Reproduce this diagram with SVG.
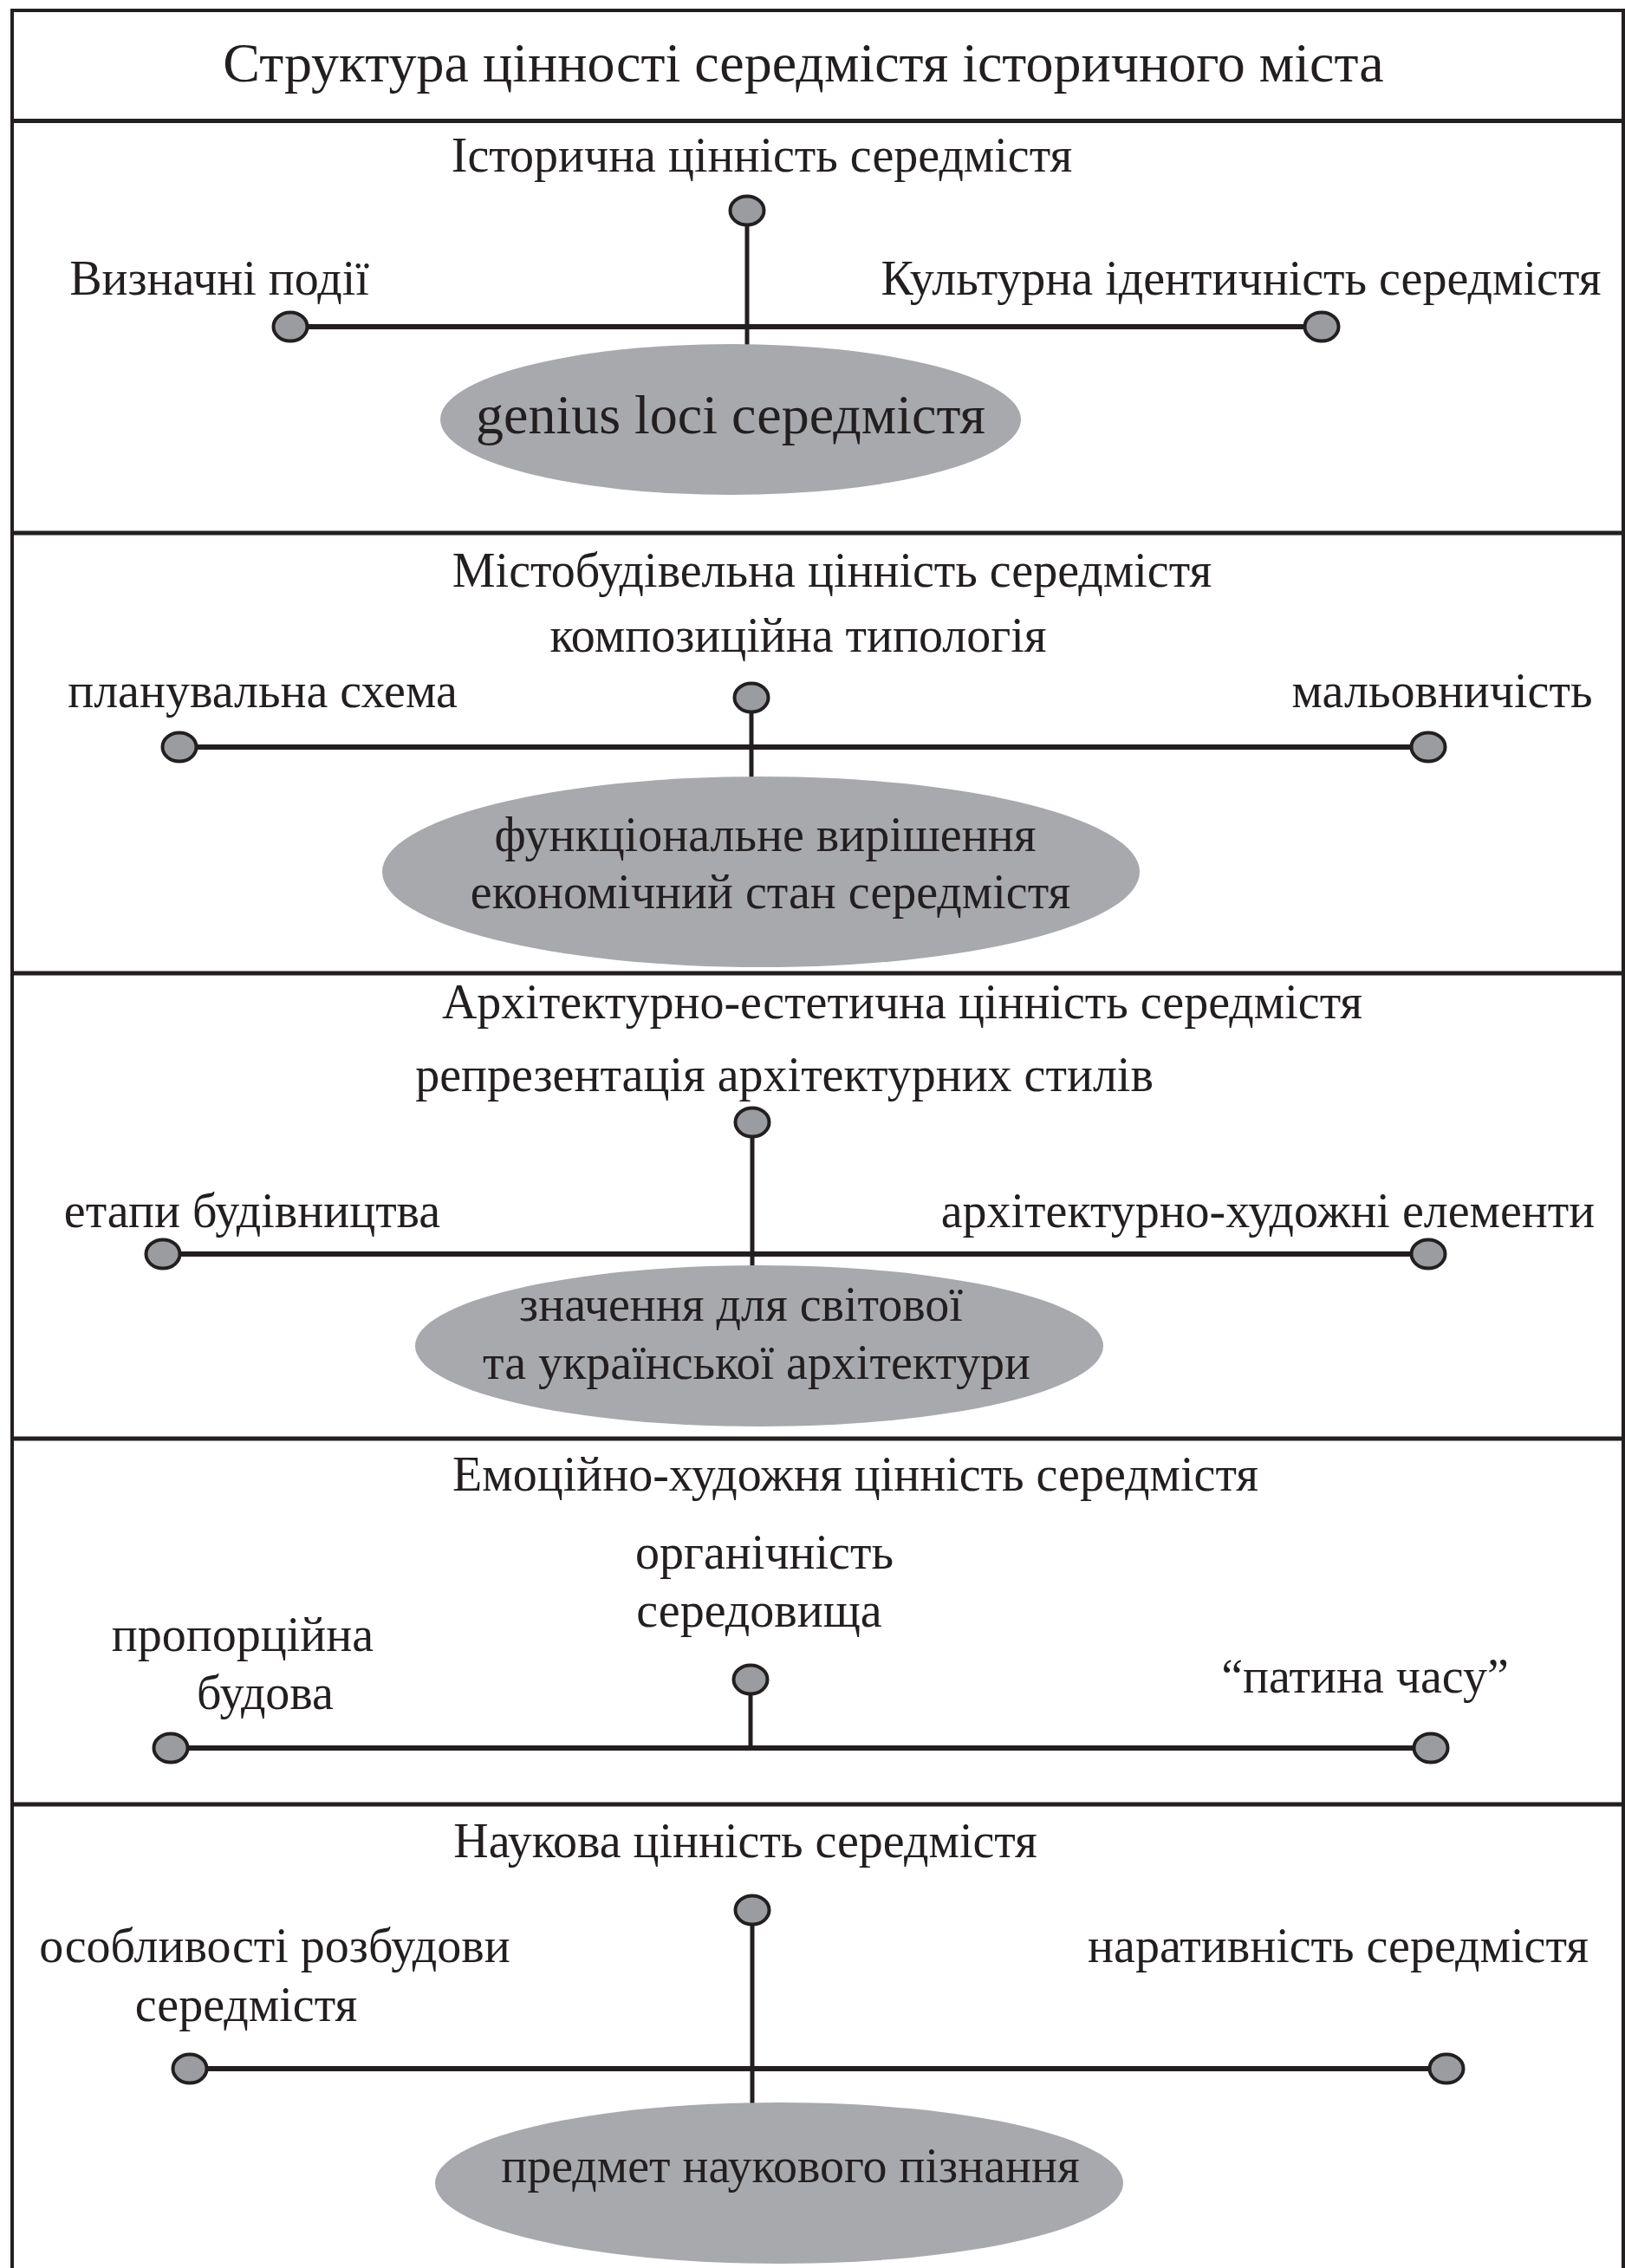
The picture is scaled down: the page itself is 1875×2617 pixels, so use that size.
<svg xmlns="http://www.w3.org/2000/svg" width="1875" height="2617" viewBox="0 0 1875 2617">
<style>
.frame{fill:none;stroke:#231f20;stroke-width:4}
.sep{stroke:#231f20;stroke-width:5}
.lh{stroke:#231f20;stroke-width:6}
.lv{stroke:#231f20;stroke-width:5}
.dot{fill:#9b9c9f;stroke:#231f20;stroke-width:4}
.oval{fill:#a7a9ac}
text{font-family:"Liberation Serif","Times New Roman",serif;fill:#231f20;text-anchor:middle}
.title{font-size:64px}
.t{font-size:56px}
.o{font-size:56px}
.g{font-size:64px}
</style>
<rect width="1875" height="2617" fill="#fff"/>
<g id="frame">
<line class="frame" x1="14" y1="12" x2="1873" y2="12"/>
<line class="frame" x1="14" y1="10" x2="14" y2="2617"/>
<line class="frame" x1="1873" y1="10" x2="1873" y2="2617"/>
<line class="sep" x1="12" y1="139.5" x2="1875" y2="139.5"/>
<line class="sep" x1="12" y1="615" x2="1875" y2="615"/>
<line class="sep" x1="12" y1="1123" x2="1875" y2="1123"/>
<line class="sep" x1="12" y1="1660" x2="1875" y2="1660"/>
<line class="sep" x1="12" y1="2082" x2="1875" y2="2082"/>
</g>
<g id="title"><text class="title" x="927" y="94">Структура цінності середмістя історичного міста</text></g>
<g id="connectors">
<line class="lh" x1="335" y1="377" x2="1525" y2="377"/>
<line class="lv" x1="862" y1="243" x2="862" y2="400"/>
<line class="lh" x1="207" y1="862" x2="1648" y2="862"/>
<line class="lv" x1="867" y1="805" x2="867" y2="900"/>
<line class="lh" x1="188" y1="1447" x2="1648" y2="1447"/>
<line class="lv" x1="868" y1="1295" x2="868" y2="1465"/>
<line class="lh" x1="197" y1="2017" x2="1651" y2="2017"/>
<line class="lv" x1="866" y1="1938" x2="866" y2="2017"/>
<line class="lh" x1="219" y1="2387" x2="1669" y2="2387"/>
<line class="lv" x1="868" y1="2204" x2="868" y2="2430"/>
</g>
<g id="s1">
<text class="t" x="879" y="198">Історична цінність середмістя</text>
<text class="t" x="253" y="340">Визначні події</text>
<text class="t" x="1432" y="340">Культурна ідентичність середмістя</text>
<ellipse class="dot" cx="862" cy="243" rx="19.5" ry="16.5"/>
<ellipse class="dot" cx="335" cy="377" rx="19.5" ry="16.5"/>
<ellipse class="dot" cx="1525" cy="377" rx="19.5" ry="16.5"/>
<g id="s1-oval"><ellipse class="oval" cx="843" cy="484" rx="335" ry="87"/>
<text class="g" x="843" y="500">genius loci середмістя</text></g>
</g>
<g id="s2">
<text class="t" x="960" y="677">Містобудівельна цінність середмістя</text>
<text class="t" x="921" y="752">композиційна типологія</text>
<text class="t" x="303" y="816">планувальна схема</text>
<text class="t" x="1664" y="816">мальовничість</text>
<ellipse class="dot" cx="867" cy="805" rx="19.5" ry="16.5"/>
<ellipse class="dot" cx="207" cy="862" rx="19.5" ry="16.5"/>
<ellipse class="dot" cx="1648" cy="862" rx="19.5" ry="16.5"/>
<g id="s2-oval"><ellipse class="oval" cx="878" cy="1006" rx="437" ry="110"/>
<text class="o" x="883" y="982">функціональне вирішення</text>
<text class="o" x="889" y="1048">економічний стан середмістя</text></g>
</g>
<g id="s3">
<text class="t" x="1041" y="1175">Архітектурно-естетична цінність середмістя</text>
<text class="t" x="905" y="1259">репрезентація архітектурних стилів</text>
<text class="t" x="291" y="1416">етапи будівництва</text>
<text class="t" x="1463" y="1416">архітектурно-художні елементи</text>
<ellipse class="dot" cx="868" cy="1295" rx="19.5" ry="16.5"/>
<ellipse class="dot" cx="188" cy="1447" rx="19.5" ry="16.5"/>
<ellipse class="dot" cx="1648" cy="1447" rx="19.5" ry="16.5"/>
<g id="s3-oval"><ellipse class="oval" cx="876" cy="1553" rx="397" ry="93"/>
<text class="o" x="855" y="1524">значення для світової</text>
<text class="o" x="873" y="1591">та української архітектури</text></g>
</g>
<g id="s4">
<text class="t" x="987" y="1720">Емоційно-художня цінність середмістя</text>
<text class="t" x="882" y="1810">органічність</text>
<text class="t" x="876" y="1877">середовища</text>
<text class="t" x="280" y="1905">пропорційна</text>
<text class="t" x="306" y="1972">будова</text>
<text class="t" x="1575" y="1953">“патина часу”</text>
<ellipse class="dot" cx="866" cy="1938" rx="19.5" ry="16.5"/>
<ellipse class="dot" cx="197" cy="2017" rx="19.5" ry="16.5"/>
<ellipse class="dot" cx="1651" cy="2017" rx="19.5" ry="16.5"/>
</g>
<g id="s5">
<text class="t" x="860" y="2143">Наукова цінність середмістя</text>
<text class="t" x="317" y="2264">особливості розбудови</text>
<text class="t" x="284" y="2332">середмістя</text>
<text class="t" x="1544" y="2264">наративність середмістя</text>
<ellipse class="dot" cx="868" cy="2204" rx="19.5" ry="16.5"/>
<ellipse class="dot" cx="219" cy="2387" rx="19.5" ry="16.5"/>
<ellipse class="dot" cx="1669" cy="2387" rx="19.5" ry="16.5"/>
<g id="s5-oval"><ellipse class="oval" cx="899" cy="2519" rx="397" ry="93"/>
<text class="o" x="912" y="2518">предмет наукового пізнання</text></g>
</g>
</svg>
